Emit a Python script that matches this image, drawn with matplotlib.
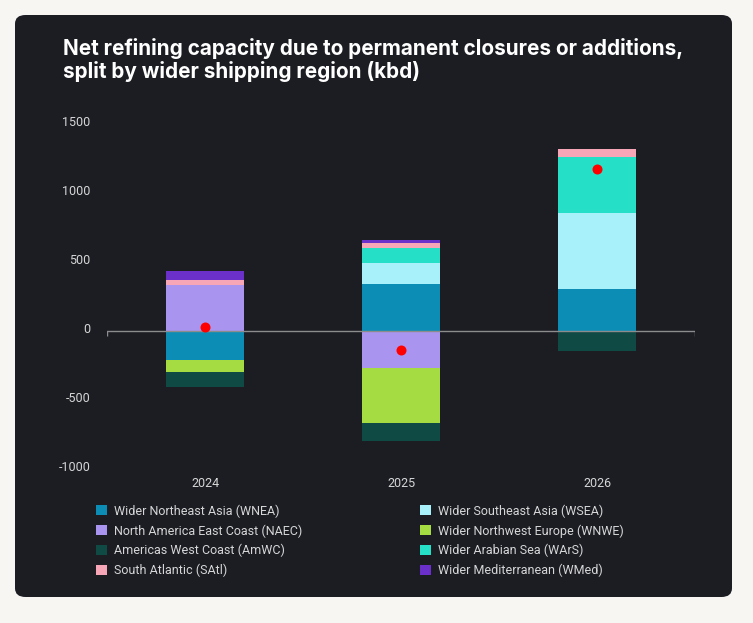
import numpy as np
import matplotlib.pyplot as plt
import matplotlib.transforms as mtransforms
from matplotlib.patches import FancyBboxPatch, Patch

plt.rcParams['axes.unicode_minus'] = False

# data (kbd)
years = ['2024', '2025', '2026']
regions = ['Wider Northeast Asia (WNEA)', 'Wider Southeast Asia (WSEA)',
           'North America East Coast (NAEC)', 'Wider Northwest Europe (WNWE)',
           'Americas West Coast (AmWC)', 'Wider Arabian Sea (WArS)',
           'South Atlantic (SAtl)', 'Wider Mediterranean (WMed)']
wnea = [-212, 338, 300]
wsea = [0, 150, 551]
naec = [330, -270, 0]
wnwe = [-85, -396, 0]
amwc = [-109, -135, -145]
wars = [0, 112, 406]
satl = [41, 38, 58]
wmed = [65, 20, 0]
colors = ['#0b8db5', '#a8f1fb', '#a995f0', '#a4dc42',
          '#0f4a45', '#25e0c6', '#f7a6b8', '#6a30c9']

series = [wnea, wsea, naec, wnwe, amwc, wars, satl, wmed]

bg = '#f7f6f2'
panel = '#1b1d23'
txt = '#d6d6d6'

fig = plt.figure(figsize=(7.53, 6.23), dpi=100, facecolor=bg)
fig.patches.append(FancyBboxPatch((15/753, 26/623), 717/753, 582/623,
                                  boxstyle='round,pad=0,rounding_size=0.014',
                                  transform=fig.transFigure, facecolor=panel,
                                  edgecolor='none', zorder=-10))

ax = fig.add_axes([107/753, 1-468.7/623, 588/753, 345/623])
ax.set_zorder(1)
ax.patch.set_visible(False)

x = np.arange(len(years))
pos_base = np.zeros(len(years))
neg_base = np.zeros(len(years))
for vals, c in zip(series, colors):
    v = np.array(vals, dtype=float)
    bottom = np.where(v >= 0, pos_base, neg_base)
    ax.bar(x, v, width=0.40, bottom=bottom, color=c, linewidth=0, zorder=2)
    pos_base += np.where(v > 0, v, 0)
    neg_base += np.where(v < 0, v, 0)

# red dot = net change per year
net = np.sum(np.array(series), axis=0)
ax.scatter(x, net, s=52, color='#ff0000', zorder=4, linewidths=0)

ax.set_xlim(-0.5, 2.5)
ax.set_ylim(-1000, 1500)
ax.axhline(0, color='#8c8c8c', lw=1, zorder=3)
ax.vlines([-0.5, 2.5], -38, 0, color='#8c8c8c', lw=1, zorder=3)

for s in ax.spines.values():
    s.set_visible(False)
ax.set_yticks([-1000, -500, 0, 500, 1000, 1500])
ax.set_xticks(x)
ax.set_xticklabels(years)
ax.tick_params(axis='y', length=0, pad=12, labelcolor=txt, labelsize=9)
ax.tick_params(axis='x', length=0, pad=6, labelcolor=txt, labelsize=9)
for lab in ax.get_xticklabels() + ax.get_yticklabels():
    lab.set_fontfamily('Roboto')
shift = mtransforms.ScaledTranslation(0, 2.4/100, fig.dpi_scale_trans)
for lab in ax.get_yticklabels():
    lab.set_transform(lab.get_transform() + shift)

fig.text(63/753, 1-38/623, 'Net refining capacity due to permanent closures or additions,\nsplit by wider shipping region (kbd)',
         color='white', fontsize=14.9, fontweight='bold', family='Inter',
         va='top', ha='left', linespacing=1.1)

order = [0, 2, 4, 6, 1, 3, 5, 7]
handles = [Patch(facecolor=colors[i], edgecolor='none') for i in order]
labels = [regions[i] for i in order]
leg = fig.legend(handles, labels, ncol=2, loc='upper left',
                 bbox_to_anchor=(90/753, 1-498/623), frameon=False,
                 prop={'family': 'Roboto', 'size': 9}, labelcolor=txt,
                 handlelength=0.85, handleheight=0.85, handletextpad=0.55,
                 columnspacing=9.45, labelspacing=0.52, borderpad=0)

fig.savefig('out.png', dpi=100, facecolor=bg)
